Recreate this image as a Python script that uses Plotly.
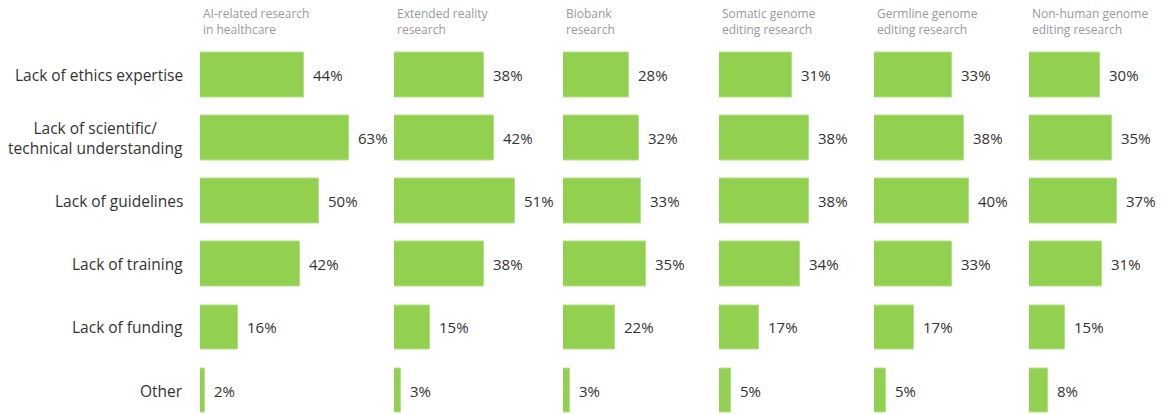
import plotly.graph_objects as go

W, H = 1161, 414

categories = ["Lack of ethics expertise", "Lack of scientific/<br>technical understanding",
              "Lack of guidelines", "Lack of training", "Lack of funding", "Other"]
panel_titles = ["AI-related research<br>in healthcare", "Extended reality<br>research",
                "Biobank<br>research", "Somatic genome<br>editing research",
                "Germline genome<br>editing research", "Non-human genome<br>editing research"]
ai_health = [44, 63, 50, 42, 16, 2]
extended_reality = [38, 42, 51, 38, 15, 3]
biobank = [28, 32, 33, 35, 22, 3]
somatic = [31, 38, 38, 34, 17, 5]
germline = [33, 38, 40, 33, 17, 5]
non_human = [30, 35, 37, 31, 15, 8]
series = [ai_health, extended_reality, biobank, somatic, germline, non_human]

# layout (pixels)
starts = [200, 394, 563, 719, 874, 1029]
k = 2.37  # px per percent
green = "#92D050"
font_family = "'Open Sans', sans-serif"

fig = go.Figure()
annotations = []
layout = {}
ytop_px = 43.5
row_px = 63.1
last_center_px = ytop_px + row_px * 5.5
ybottom_val = 5 + (H - last_center_px) / row_px
y_dom_top = 1 - ytop_px / H

for i, vals in enumerate(series):
    n = i + 1
    xa = "x" if n == 1 else f"x{n}"
    ya = "y" if n == 1 else f"y{n}"
    end_px = starts[i + 1] - 4 if i < 5 else W
    rmax = (end_px - starts[i]) / k
    fig.add_trace(go.Bar(
        x=vals, y=list(range(len(categories))), orientation="h",
        marker=dict(color=green, line=dict(color="#b5e08a", width=1)),
        width=0.71, xaxis=xa, yaxis=ya, hoverinfo="skip", showlegend=False))
    layout[f"xaxis{'' if n == 1 else n}"] = dict(
        domain=[starts[i] / W, end_px / W], range=[0, rmax], visible=False, fixedrange=True)
    layout[f"yaxis{'' if n == 1 else n}"] = dict(
        domain=[0, y_dom_top], range=[ybottom_val, -0.5], visible=False, fixedrange=True,
        anchor=xa)
    for j, v in enumerate(vals):
        annotations.append(dict(
            x=v, y=j, xref=xa, yref=ya, text=f"{v}%", showarrow=False,
            xanchor="left", yanchor="middle", xshift=7,
            font=dict(family=font_family, size=15, color="#333333")))
    annotations.append(dict(
        x=(starts[i] + 1) / W, y=1 - 3 / H, xref="paper", yref="paper",
        text=panel_titles[i], showarrow=False, xanchor="left", yanchor="top",
        align="left", font=dict(family=font_family, size=12, color="#9a9a9a")))

for j, c in enumerate(categories):
    annotations.append(dict(
        x=185 / W, y=j, xref="paper", yref="y", text=c, showarrow=False,
        xanchor="right", yanchor="middle", align="center",
        font=dict(family=font_family, size=15.5, color="#333333")))

fig.update_layout(
    width=W, height=H, margin=dict(l=0, r=0, t=0, b=0),
    paper_bgcolor="white", plot_bgcolor="white",
    annotations=annotations, bargap=0, **layout)

fig.write_html("out.html")
